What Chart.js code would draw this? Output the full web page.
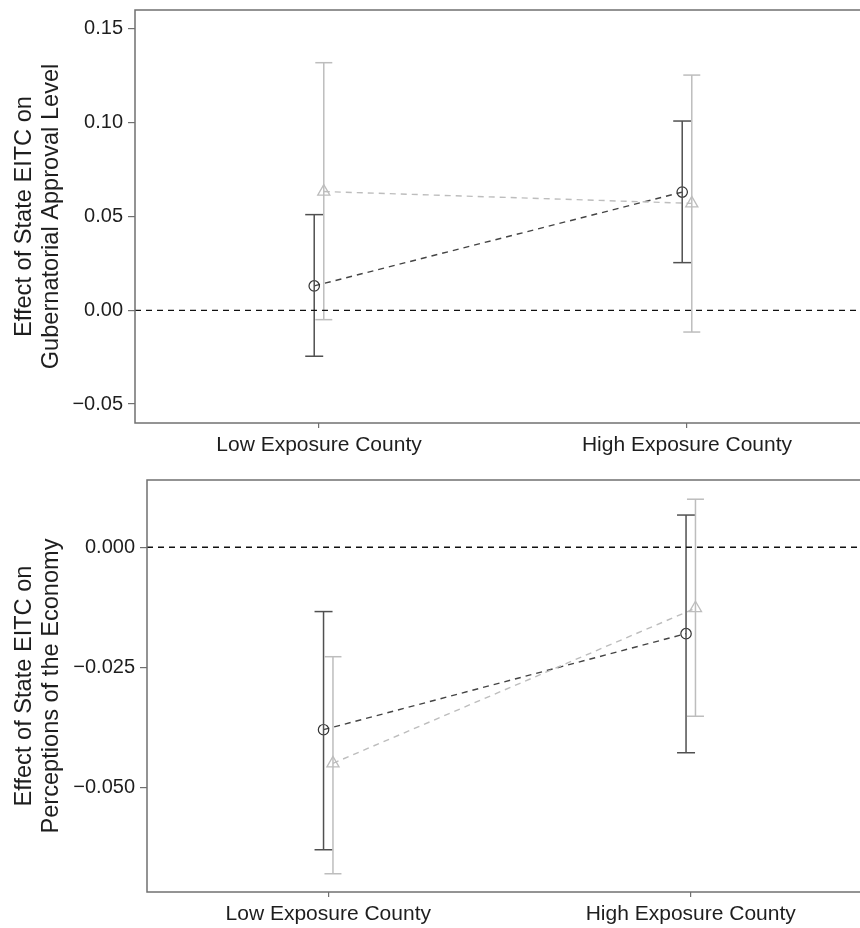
<!DOCTYPE html>
<html>
<head>
<meta charset="utf-8">
<script src="https://cdn.jsdelivr.net/npm/chart.js@4"></script>
<style>
  html, body { margin: 0; padding: 0; background: #fff; width: 860px; height: 928px; overflow: hidden; }
  canvas { display: block; }
</style>
</head>
<body>
<canvas id="c1" width="880" height="465"></canvas>
<canvas id="c2" width="880" height="463"></canvas>
<script>
// ---------- data ----------
const categories = ['Low Exposure County', 'High Exposure County'];
const categoryPositions = [1, 2];

// Panel 1: Gubernatorial approval level
const approvalDarkEst   = [0.013, 0.063];
const approvalDarkLow   = [-0.0245, 0.0254];
const approvalDarkHigh  = [0.051, 0.1009];
const approvalLightEst  = [0.0633, 0.057];
const approvalLightLow  = [-0.005, -0.0116];
const approvalLightHigh = [0.132, 0.1254];
const approvalTicks      = [-0.05, 0, 0.05, 0.10, 0.15];
const approvalTickLabels = ['\u22120.05', '0.00', '0.05', '0.10', '0.15'];

// Panel 2: Perceptions of the economy
const economyDarkEst   = [-0.038, -0.018];
const economyDarkLow   = [-0.063, -0.0428];
const economyDarkHigh  = [-0.0134, 0.0067];
const economyLightEst  = [-0.045, -0.0127];
const economyLightLow  = [-0.068, -0.0352];
const economyLightHigh = [-0.0228, 0.0100];
const economyTicks      = [-0.05, -0.025, 0];
const economyTickLabels = ['\u22120.050', '\u22120.025', '0.000'];

// ---------- styling ----------
const FONT = "'Liberation Sans', Arial, Helvetica, sans-serif";
const TEXT = '#1e1e1e';
const FRAME = '#707070';
const DARK_BAR = '#505050';
const DARK_MARK = '#333333';
const LIGHT = '#bdbdbd';
const OFF = 0.013;

const framePlugin = {
  id: 'frame',
  afterDatasetsDraw(chart) {
    const a = chart.chartArea, ctx = chart.ctx;
    ctx.save();
    ctx.strokeStyle = FRAME;
    ctx.lineWidth = 1.5;
    ctx.strokeRect(a.left, a.top, a.right - a.left, a.bottom - a.top);
    ctx.restore();
  }
};

function buildDatasets(dEst, dLo, dHi, lEst, lLo, lHi, xmin, xmax) {
  const ds = [];
  // zero reference line
  ds.push({
    data: [{x: xmin, y: 0}, {x: xmax, y: 0}],
    showLine: true, borderColor: '#111', borderWidth: 1.3, borderDash: [6, 5],
    pointRadius: 0
  });
  // error bars
  categoryPositions.forEach((c, i) => {
    ds.push({
      data: [{x: c + OFF, y: lLo[i]}, {x: c + OFF, y: lHi[i]}],
      showLine: true, borderColor: LIGHT, borderWidth: 1.5,
      pointStyle: 'line', pointRadius: 8.5, pointBorderColor: LIGHT, pointBorderWidth: 1.5
    });
  });
  categoryPositions.forEach((c, i) => {
    ds.push({
      data: [{x: c - OFF, y: dLo[i]}, {x: c - OFF, y: dHi[i]}],
      showLine: true, borderColor: DARK_BAR, borderWidth: 1.5,
      pointStyle: 'line', pointRadius: 9, pointBorderColor: DARK_BAR, pointBorderWidth: 1.5
    });
  });
  // estimate lines
  ds.push({
    data: categoryPositions.map((c, i) => ({x: c + OFF, y: lEst[i]})),
    showLine: true, borderColor: LIGHT, borderWidth: 1.4, borderDash: [6, 5],
    pointStyle: 'triangle', pointRadius: 7, pointBorderColor: LIGHT, pointBorderWidth: 1.3,
    pointBackgroundColor: 'rgba(255,255,255,0)'
  });
  ds.push({
    data: categoryPositions.map((c, i) => ({x: c - OFF, y: dEst[i]})),
    showLine: true, borderColor: '#444', borderWidth: 1.4, borderDash: [6, 5],
    pointStyle: 'circle', pointRadius: 5.2, pointBorderColor: DARK_MARK, pointBorderWidth: 1.2,
    pointBackgroundColor: 'rgba(255,255,255,0)'
  });
  return ds;
}

function makeChart(id, datasets, opts) {
  return new Chart(document.getElementById(id), {
    type: 'scatter',
    data: { datasets },
    plugins: [framePlugin],
    options: {
      responsive: false,
      animation: false,
      devicePixelRatio: 1,
      layout: { autoPadding: false, padding: { left: 0, top: opts.padTop, right: opts.padRight, bottom: 0 } },
      plugins: { legend: { display: false }, tooltip: { enabled: false } },
      scales: {
        x: {
          type: 'linear', min: 0.5, max: 2.5,
          afterBuildTicks: s => { s.ticks = categoryPositions.map(v => ({value: v})); },
          afterFit: s => { s.height = opts.xHeight; s.paddingLeft = 0; s.paddingRight = 0; },
          grid: { drawOnChartArea: false, drawTicks: true, tickLength: 5, color: FRAME, lineWidth: 1.2 },
          border: { display: false },
          ticks: {
            padding: 5, color: TEXT, font: { family: FONT, size: 21 },
            maxRotation: 0, autoSkip: false,
            callback: (v, i) => categories[i]
          }
        },
        y: {
          type: 'linear', min: opts.ymin, max: opts.ymax,
          afterBuildTicks: s => { s.ticks = opts.ticks.map(v => ({value: v})); },
          afterFit: s => { s.width = opts.yWidth; s.paddingTop = 0; s.paddingBottom = 0; },
          grid: { drawOnChartArea: false, drawTicks: true, tickLength: 7, color: FRAME, lineWidth: 1.2 },
          border: { display: false },
          ticks: {
            padding: 5, color: TEXT, font: { family: FONT, size: 20 }, autoSkip: false,
            callback: (v, i) => opts.tickLabels[i]
          },
          title: {
            display: true, text: opts.title, color: TEXT,
            font: { family: FONT, size: 23.6, lineHeight: 1.15 },
            padding: { top: 11, bottom: 0 }
          }
        }
      }
    }
  });
}

makeChart('c1',
  buildDatasets(approvalDarkEst, approvalDarkLow, approvalDarkHigh,
                approvalLightEst, approvalLightLow, approvalLightHigh, 0.5, 2.5),
  { padTop: 10, padRight: 9, xHeight: 42, yWidth: 135,
    ymin: -0.0601, ymax: 0.1601, ticks: approvalTicks, tickLabels: approvalTickLabels,
    title: ['Effect of State EITC on', 'Gubernatorial Approval Level'] });

makeChart('c2',
  buildDatasets(economyDarkEst, economyDarkLow, economyDarkHigh,
                economyLightEst, economyLightLow, economyLightHigh, 0.5, 2.5),
  { padTop: 15, padRight: 8, xHeight: 36, yWidth: 147,
    ymin: -0.0718, ymax: 0.0140, ticks: economyTicks, tickLabels: economyTickLabels,
    title: ['Effect of State EITC on', 'Perceptions of the Economy'] });
</script>
</body>
</html>
